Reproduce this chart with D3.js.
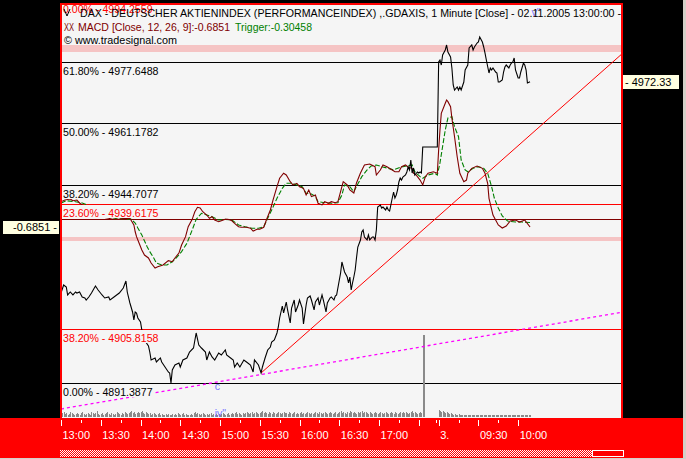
<!DOCTYPE html>
<html><head><meta charset="utf-8">
<script src="https://cdn.jsdelivr.net/npm/d3@7"></script>
<style>html,body{margin:0;padding:0;background:#000;overflow:hidden}
text{font-family:"Liberation Sans",Arial,sans-serif;font-size:10.6px}</style>
</head><body><svg id="c" width="686" height="459"></svg>
<script>
// ---------- DATA ----------
// bar index = minutes since 02.11.2005 13:00 (day 1: 0..284, day 2 starts 09:00 at 285)
const priceSeries = [[0,4915.57],[2,4917.72],[4,4917.19],[5,4915.04],[7,4915.84],[9,4915.04],[11,4915.84],[12,4915.57],[14,4915.84],[16,4914.50],[18,4914.23],[19,4913.69],[21,4914.50],[23,4915.57],[26,4917.45],[28,4916.38],[31,4915.04],[33,4914.23],[36,4914.50],[37,4913.69],[40,4914.50],[42,4915.04],[44,4915.57],[47,4916.92],[49,4918.80],[50,4915.84],[52,4912.89],[54,4910.47],[55,4908.32],[56,4910.47],[57,4910.20],[58,4908.86],[60,4907.78],[61,4905.63],[62,4904.29],[64,4902.41],[66,4901.33],[67,4899.72],[68,4897.57],[71,4898.11],[72,4897.03],[75,4898.11],[76,4897.03],[79,4895.42],[81,4894.35],[82,4894.08],[83,4891.39],[84,4894.88],[86,4896.23],[89,4896.76],[90,4895.69],[92,4897.57],[95,4898.11],[97,4899.72],[100,4900.79],[102,4904.83],[104,4901.60],[106,4900.79],[109,4899.72],[110,4897.57],[112,4899.72],[114,4898.38],[116,4897.57],[119,4899.45],[121,4898.91],[124,4900.26],[125,4898.91],[128,4898.11],[130,4897.57],[131,4895.69],[133,4896.76],[135,4895.69],[138,4897.57],[140,4897.03],[143,4896.23],[145,4894.35],[146,4897.57],[149,4896.23],[151,4894.08],[152,4895.69],[154,4898.11],[156,4900.26],[158,4901.06],[159,4902.41],[161,4902.94],[163,4904.83],[164,4906.44],[165,4908.86],[167,4912.08],[168,4910.20],[170,4913.15],[171,4911.01],[173,4907.51],[174,4911.54],[176,4913.69],[177,4910.47],[179,4912.35],[180,4913.69],[182,4911.54],[183,4907.24],[185,4912.35],[186,4914.23],[188,4914.77],[189,4913.69],[191,4911.01],[192,4913.15],[194,4914.23],[195,4912.35],[197,4915.04],[198,4913.69],[200,4910.47],[201,4912.89],[203,4914.23],[204,4914.50],[206,4913.69],[207,4914.77],[208,4915.04],[211,4920.95],[212,4923.90],[214,4921.22],[216,4919.87],[217,4918.26],[218,4919.87],[219,4916.38],[220,4918.26],[221,4919.87],[222,4921.75],[223,4924.98],[224,4927.93],[226,4929.82],[227,4931.97],[228,4932.50],[229,4930.62],[231,4929.82],[232,4931.16],[233,4929.82],[235,4930.62],[236,4930.62],[237,4929.82],[238,4932.50],[239,4938.68],[241,4939.22],[242,4938.41],[243,4938.68],[245,4937.88],[246,4938.68],[247,4937.88],[248,4937.61],[250,4941.10],[251,4942.71],[252,4941.10],[253,4941.91],[254,4943.25],[255,4945.40],[256,4946.47],[257,4945.94],[258,4946.74],[260,4947.28],[261,4948.09],[262,4949.43],[263,4948.62],[264,4951.31],[265,4947.82],[266,4949.16],[267,4947.28],[269,4948.09],[270,4947.82],[271,4948.09],[272,4947.82],[273,4954.81],[284,4954.81],[285,4977.65],[286,4978.19],[287,4976.84],[288,4979.53],[290,4980.87],[291,4982.22],[292,4980.34],[294,4978.99],[295,4976.04],[296,4971.47],[297,4970.12],[299,4970.93],[300,4970.12],[301,4970.93],[302,4970.12],[304,4972.27],[305,4975.50],[307,4976.84],[308,4981.41],[310,4982.22],[311,4980.87],[312,4981.68],[314,4982.75],[315,4983.02],[316,4984.36],[318,4983.02],[319,4981.68],[320,4980.06],[321,4978.19],[323,4974.69],[324,4976.04],[325,4975.50],[326,4976.04],[328,4974.96],[329,4974.69],[330,4972.27],[331,4972.27],[333,4972.81],[334,4974.96],[335,4976.30],[336,4976.84],[338,4976.04],[339,4976.84],[340,4977.38],[341,4977.65],[342,4978.72],[343,4975.50],[345,4973.35],[346,4973.35],[347,4974.96],[349,4977.38],[350,4976.84],[351,4975.50],[352,4972.01],[354,4972.33]];

const macdSeries = [[0,1.48],[3,1.62],[7,1.71],[9,1.56],[12,1.62],[14,1.37],[17,1.11],[22,0.77],[26,0.43],[31,0.17],[36,0.06],[39,-0.03],[43,-0.03],[48,0.03],[52,0.06],[55,-0.51],[56,-1.09],[57,-1.51],[58,-1.79],[61,-2.65],[63,-3.08],[66,-3.33],[68,-3.76],[71,-4.19],[73,-4.08],[77,-3.93],[81,-3.56],[84,-3.65],[86,-3.33],[89,-2.91],[91,-2.22],[94,-1.51],[96,-0.66],[99,-0.03],[101,0.62],[103,1.00],[105,0.94],[107,0.62],[110,0.34],[112,0.06],[114,0.20],[116,-0.09],[119,-0.23],[121,-0.15],[124,-0.03],[126,-0.03],[129,-0.15],[131,-0.37],[134,-0.66],[136,-0.71],[140,-0.71],[143,-0.79],[145,-1.03],[148,-0.88],[150,-0.88],[153,-0.71],[155,-0.09],[158,0.77],[160,1.62],[163,2.76],[165,3.48],[168,3.91],[170,3.76],[173,3.19],[175,2.91],[178,3.05],[180,2.76],[183,2.62],[185,2.05],[187,2.48],[189,1.91],[192,2.05],[194,1.34],[197,1.20],[199,1.48],[202,1.34],[204,1.48],[207,1.39],[209,1.48],[212,2.76],[213,3.19],[216,2.91],[218,2.48],[221,2.22],[223,3.08],[226,3.93],[229,4.62],[233,4.70],[237,4.47],[238,3.76],[241,4.19],[243,4.62],[246,4.47],[250,4.19],[252,4.04],[255,4.04],[257,4.47],[260,4.62],[262,4.42],[265,4.33],[266,3.91],[268,3.76],[271,3.33],[273,2.91],[275,3.62],[277,3.91],[281,4.04],[284,3.91],[285,5.90],[286,7.61],[287,9.03],[290,9.89],[291,10.17],[292,10.03],[294,9.60],[295,8.61],[297,7.03],[299,5.32],[301,3.91],[304,3.19],[306,3.33],[307,3.91],[310,4.33],[314,4.53],[318,4.33],[320,3.91],[322,3.05],[323,1.77],[326,0.34],[330,-0.51],[333,-0.77],[336,-0.60],[339,-0.17],[343,-0.09],[346,-0.26],[350,-0.09],[354,-0.6851]];

const triggerSeries = [[0,1.37],[4,1.56],[11,1.48],[16,1.37],[22,1.11],[29,0.68],[37,0.17],[43,0.00],[48,0.03],[53,-0.03],[56,-0.34],[58,-0.77],[61,-1.37],[65,-2.37],[67,-2.79],[70,-3.33],[72,-3.76],[76,-3.93],[80,-3.93],[84,-3.65],[87,-3.33],[91,-2.79],[95,-2.08],[99,-0.94],[102,-0.03],[106,0.49],[110,0.34],[114,0.20],[119,-0.09],[124,-0.03],[129,-0.09],[134,-0.51],[139,-0.66],[144,-0.79],[149,-0.79],[153,-0.66],[156,0.06],[159,0.77],[163,1.77],[167,2.62],[170,3.05],[174,3.05],[178,2.91],[182,2.76],[185,2.20],[189,2.14],[192,1.91],[194,1.48],[199,1.39],[204,1.34],[209,1.39],[212,2.05],[214,2.91],[218,2.76],[221,2.33],[224,2.99],[227,3.62],[231,4.19],[234,4.53],[238,4.62],[242,4.47],[247,4.33],[251,4.19],[256,4.42],[261,4.53],[265,4.62],[267,4.04],[271,3.62],[273,3.48],[277,3.76],[282,3.91],[284,3.76],[286,4.79],[290,7.61],[292,8.63],[295,8.74],[297,7.89],[300,7.03],[302,5.04],[305,4.19],[307,4.04],[311,4.33],[315,4.47],[319,4.33],[322,3.91],[325,2.76],[327,1.79],[330,0.94],[333,0.26],[337,-0.17],[343,-0.26],[348,-0.26],[354,-0.30458]];

// volume per bar, index 0..354
const volume = [7,5,6,4,5,3,4,6,5,4, 3,4,5,4,3,5,6,4,3,4, 5,4,3,6,5,4,5,7,4,3, 4,5,3,4,5,6,4,3,5,4,
 3,4,6,5,4,3,5,4,6,5, 4,5,6,7,5,6,4,5,6,5, 6,7,5,4,6,5,4,5,3,4, 5,4,3,4,5,3,4,2,3,4,
 3,4,3,2,4,3,4,3,5,4, 3,4,5,3,4,3,2,3,4,3, 5,6,4,5,4,3,4,5,4,3, 4,3,4,5,3,4,3,4,3,4,
 3,4,5,4,3,4,5,3,4,5, 4,5,6,4,5,4,3,5,4,5, 6,5,4,5,6,4,5,6,5,4, 5,6,7,5,6,5,4,6,5,4,
 6,5,4,5,6,5,4,5,6,5, 5,4,6,5,4,5,6,4,5,4, 5,6,4,5,4,5,6,5,4,5, 4,5,6,5,4,6,5,4,5,6,
 5,4,5,6,5,4,5,6,4,5, 6,7,5,6,5,4,6,5,7,6, 5,6,5,4,6,5,6,7,5,6, 6,5,4,6,5,4,5,6,5,4,
 5,6,5,4,5,6,5,4,5,6, 5,4,6,5,4,5,6,5,6,5, 6,5,4,5,6,7,5,6,5,4, 5,6,5,100,1,0,0,0,0,0, 0,0,0,0,0,
 8,7,6,7,6,5,6,5,4,5, 4,3,4,3,3,4,3,2,3,3, 2,3,3,2,3,2,3,3,2,3, 2,3,2,2,3,2,3,2,2,3,
 2,2,3,2,2,3,2,2,3,2, 2,3,2,2,3,2,2,3,2,2, 2,2,3,2,2,2,3,2,2,2];

// Fibonacci retracement levels
const fibPct   = ["61.80%","50.00%","38.20%","0.00%","0.00%","23.60%","38.20%"];
const fibValue = [4977.6488,4961.1782,4944.7077,4891.3877,4994.2559,4939.6175,4905.8158];
const fibSet   = ["a","a","a","a","b","b","b"];

// highlighted price zones [low, high]
const zones = [[4980.42,4982.22],[4929.63,4930.49]];

// trend lines [barIndex, price]
const redTrend = [[151,4894.08],[423,4979.72]];
const magentaTrend = [[0,4884.40],[423,4910.39]];

// Elliott wave labels
const waveText  = ["c","iv\"","v\""];
const waveIdx   = [116,116,355];
const wavePrice = [4889.5,4882.3,4989.9];

// time axis
const majorTicks  = [0,30,60,90,120,150,180,210,240,270,285,315,345];
const majorLabels = ["13:00","13:30","14:00","14:30","15:00","15:30","16:00","16:30","17:00","","3.","09:30","10:00"];
const minorTicks  = [15,45,75,105,135,165,195,225,255,283,300,330];

const lastPrice = 4972.33, lastMacd = -0.6851, lastTrigger = -0.30458;

// ---------- DRAW ----------
const svg = d3.select("#c");
const PX0 = 62, PX1 = 621, PY0 = 5, PY1 = 418;
const x  = d3.scaleLinear().domain([0,423]).range([61,621.5]);
const y  = d3.scaleLinear().domain([4891.3877,4977.6488]).range([383,62]);
const ym = d3.scaleLinear().domain([0,10]).range([219,102]);
const yv = d3.scaleLinear().domain([0,100]).range([417,335]);

svg.append("rect").attr("width",686).attr("height",459).attr("fill","#000");
const defs = svg.append("defs");
defs.append("clipPath").attr("id","plotclip").append("rect")
  .attr("x",PX0).attr("y",PY0).attr("width",PX1-PX0).attr("height",PY1-PY0);
const pat = defs.append("pattern").attr("id","chk").attr("width",2).attr("height",2).attr("patternUnits","userSpaceOnUse");
pat.append("rect").attr("width",2).attr("height",2).attr("fill","#ff0000");
pat.append("rect").attr("width",1).attr("height",1).attr("fill","#fff");
pat.append("rect").attr("x",1).attr("y",1).attr("width",1).attr("height",1).attr("fill","#fff");

svg.append("rect").attr("x",PX0).attr("y",PY0).attr("width",PX1-PX0).attr("height",PY1-PY0).attr("fill","#f5f5f5");
const g = svg.append("g").attr("clip-path","url(#plotclip)");

// zones
g.selectAll(".zone").data(zones).join("rect")
  .attr("x",PX0).attr("width",PX1-PX0)
  .attr("y",d=>Math.round(y(d[1]))).attr("height",d=>Math.max(1,Math.round(y(d[0]))-Math.round(y(d[1]))))
  .attr("fill","#f5c4c4");

// fib lines
const fib = fibValue.map((v,i)=>({pct:fibPct[i],v,set:fibSet[i]}));
g.selectAll(".fl").data(fib).join("line")
  .attr("x1",PX0).attr("x2",PX1)
  .attr("y1",d=>Math.round(y(d.v))+0.5).attr("y2",d=>Math.round(y(d.v))+0.5)
  .attr("stroke",d=>d.set==="a"?"#000":"#ff0000").attr("stroke-width",1);
// MACD zero line
g.append("line").attr("x1",PX0).attr("x2",PX1)
  .attr("y1",Math.round(ym(0))+0.5).attr("y2",Math.round(ym(0))+0.5)
  .attr("stroke","#800000");

// volume
g.selectAll(".vol").data(volume.map((v,i)=>[i,v]).filter(d=>d[1]>0)).join("rect")
  .attr("x",d=>Math.round(x(d[0])))
  .attr("width",d=>d[1]>50?2:1)
  .attr("y",d=>Math.round(yv(d[1])))
  .attr("height",d=>417-Math.round(yv(d[1])))
  .attr("fill","#8a8a8a");

const lp = d3.line().x(d=>x(d[0])).y(d=>y(d[1]));
const lm = d3.line().x(d=>x(d[0])).y(d=>ym(d[1]));

g.append("path").attr("d",lp(magentaTrend)).attr("fill","none").attr("stroke","#ff00ff")
  .attr("stroke-width",1.3).attr("stroke-dasharray","3,3");
g.append("path").attr("d",lp(redTrend)).attr("fill","none").attr("stroke","#ff0000").attr("stroke-width",1);

g.append("path").attr("d",lm(triggerSeries)).attr("fill","none").attr("stroke","#008000")
  .attr("stroke-width",1.1).attr("stroke-dasharray","5,2");
g.append("path").attr("d",lm(macdSeries)).attr("fill","none").attr("stroke","#800000").attr("stroke-width",1.1);
g.append("path").attr("d",lp(priceSeries)).attr("fill","none").attr("stroke","#000").attr("stroke-width",1.1);

// fib labels with opaque background
fib.forEach(d=>{
  const ly = Math.round(y(d.v));
  const bg = g.append("rect").attr("x",PX0).attr("y",ly+1).attr("height",13).attr("fill","#f5f5f5");
  const t = g.append("text").attr("x",PX0+1).attr("y",ly+13)
    .attr("fill",d.set==="a"?"#000":"#ff0000")
    .text(`${d.pct} - ${d.v.toFixed(4)}`);
  bg.attr("width",t.node().getComputedTextLength()+2);
});

// wave labels
g.selectAll(".wave").data(waveText.map((t,i)=>({t,i:waveIdx[i],p:wavePrice[i]}))).join("text")
  .attr("x",d=>x(d.i)).attr("y",d=>y(d.p)).attr("fill","#7878ff").text(d=>d.t);

// header texts
const hd = svg.append("g").attr("clip-path","url(#plotclip)");
hd.append("path").attr("d","M64,9 L67,16 L70,9").attr("fill","none").attr("stroke","#000");
hd.append("text").attr("x",80).attr("y",17).attr("fill","#000")
  .attr("textLength",541).attr("lengthAdjust","spacingAndGlyphs")
  .text("DAX - DEUTSCHER AKTIENINDEX (PERFORMANCEINDEX) ,.GDAXIS, 1 Minute [Close] - 02.11.2005 13:00:00 -");
hd.append("text").attr("x",64).attr("y",31).attr("fill","#800000")
  .attr("textLength",10).attr("lengthAdjust","spacingAndGlyphs").text("XX");
hd.append("text").attr("x",78).attr("y",31).attr("fill","#800000")
  .attr("textLength",152).attr("lengthAdjust","spacingAndGlyphs")
  .text(`MACD [Close, 12, 26, 9]:${lastMacd}`);
hd.append("text").attr("x",235).attr("y",31).attr("fill","#008000")
  .attr("textLength",77).attr("lengthAdjust","spacingAndGlyphs")
  .text(`Trigger:${lastTrigger}`);
hd.append("text").attr("x",64).attr("y",44).attr("fill","#000")
  .attr("textLength",113).attr("lengthAdjust","spacingAndGlyphs")
  .text("\u00a9 www.tradesignal.com");

// borders
svg.append("rect").attr("x",60).attr("y",3).attr("width",563).attr("height",2).attr("fill","#ff0000");
svg.append("rect").attr("x",60).attr("y",3).attr("width",2).attr("height",416).attr("fill","#ff0000");
svg.append("rect").attr("x",621).attr("y",3).attr("width",2).attr("height",416).attr("fill","#ff0000");

// price / macd value boxes
const ry = y(lastPrice);
svg.append("rect").attr("x",623).attr("y",Math.round(ry)-7).attr("width",56).attr("height",14).attr("fill","#ffffe1");
svg.append("text").attr("x",625).attr("y",Math.round(ry)+4).attr("fill","#000").style("font-size","11px").text(`- ${lastPrice.toFixed(2)}`);
const my = ym(lastMacd);
svg.append("rect").attr("x",3).attr("y",Math.round(my)-6).attr("width",56).attr("height",13).attr("fill","#ffffe1");
svg.append("text").attr("x",57).attr("y",Math.round(my)+4).attr("text-anchor","end").attr("fill","#000").style("font-size","11px").text(`${lastMacd} -`);

// bottom time bar
svg.append("rect").attr("x",0).attr("y",418).attr("width",683).attr("height",40).attr("fill","#ff0000");
const axMajor = d3.axisBottom(x).tickValues(majorTicks).tickSize(6).tickPadding(5)
  .tickFormat((d,i)=>majorLabels[i]);
const ax = svg.append("g").attr("transform","translate(0,420)").call(axMajor);
ax.select(".domain").remove();
ax.selectAll("line").attr("stroke","#fff").attr("shape-rendering","crispEdges");
ax.selectAll("text").attr("fill","#fff").attr("text-anchor","start").attr("dx",1)
  .style("font-family","'Liberation Sans',Arial,sans-serif").style("font-size","11px");
const axMinor = d3.axisBottom(x).tickValues(minorTicks).tickSize(3).tickFormat("");
const ax2 = svg.append("g").attr("transform","translate(0,420)").call(axMinor);
ax2.select(".domain").remove();
ax2.selectAll("line").attr("stroke","#fff").attr("shape-rendering","crispEdges");

// scrollbar
svg.append("rect").attr("x",60).attr("y",450).attr("width",532).attr("height",7).attr("fill","url(#chk)");
svg.append("rect").attr("x",592.5).attr("y",450.5).attr("width",31).attr("height",6).attr("fill","#ff0000").attr("stroke","#fff");
// window edge
svg.append("rect").attr("x",683).attr("y",0).attr("width",3).attr("height",459).attr("fill","#d4d0c8");
svg.append("rect").attr("x",0).attr("y",458).attr("width",686).attr("height",1).attr("fill","#d4d0c8");
</script></body></html>
